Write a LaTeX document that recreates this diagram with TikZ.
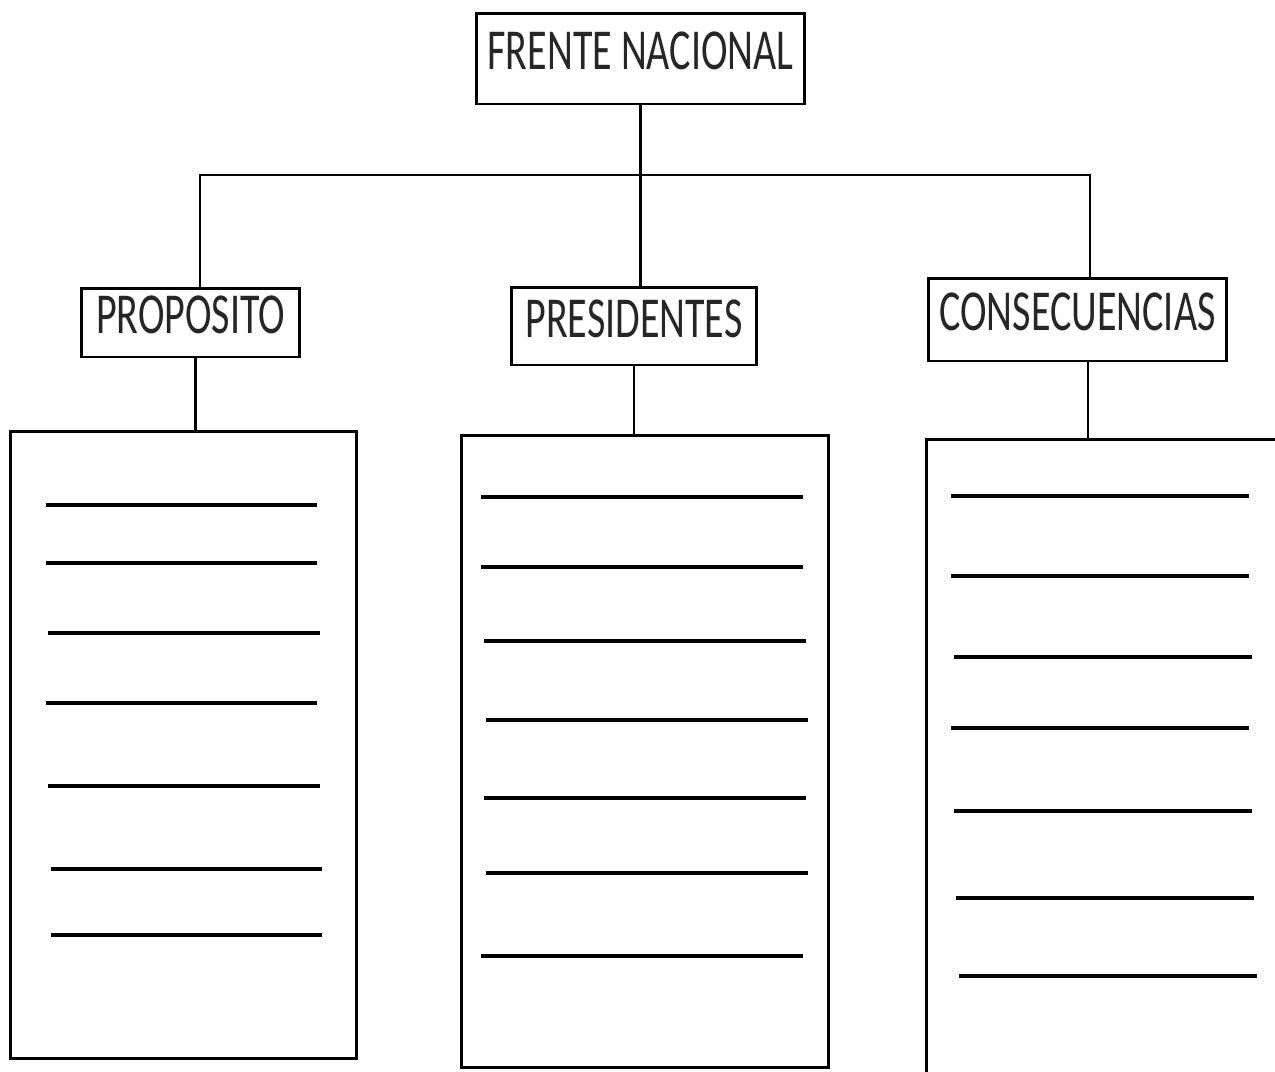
\documentclass[tikz,border=0pt]{standalone}
\usepackage{fontspec}
\newfontfamily\calibri[FakeStretch=0.69]{Carlito}
\usetikzlibrary{positioning}
\tikzset{
    %Define style for title boxes
    titulo/.style={
           rectangle,
           draw=black, line width=1.7pt,
           inner sep=0pt,
           text depth=0.3cm,
           font=\calibri\fontsize{33}{40}\selectfont,
           text=black!85,
           text centered},
    %Define style for list boxes
    caja/.style={
           rectangle,
           draw=black, line width=1.7pt,
           inner sep=0pt},
    % Define line styles
    rama/.style={
           line width=1.6pt},
    renglon/.style={
           line width=2.4pt}
}

\begin{document}
\begin{tikzpicture}[x=0.02cm,y=-0.02cm]
\useasboundingbox (0,0) rectangle (1275,1072);
\clip (0,0) rectangle (1275,1072);
 %nodes
\node[titulo, minimum width=6.58cm, minimum height=1.82cm](fn) at (640.5,58.5){FRENTE NACIONAL};
\node[titulo, minimum width=4.38cm, minimum height=1.38cm](prop) at (190.5,322.5){PROPOSITO};
\node[titulo, minimum width=4.92cm, minimum height=1.56cm](pres) at (634,326){PRESIDENTES};
\node[titulo, minimum width=5.98cm, minimum height=1.66cm](cons) at (1077.5,319.5){CONSECUENCIAS};
\node[caja, minimum width=6.94cm, minimum height=12.56cm](lprop) at (183.5,745){};
\node[caja, minimum width=7.36cm, minimum height=12.66cm](lpres) at (645,751.5){};
\node[caja, minimum width=7.48cm, minimum height=13.22cm](lcons) at (1113,769.5){};
\coordinate (jl) at (200,175);
\coordinate (jr) at (1090,175);
 %connectors
\draw[rama] (fn.south) -- (fn.south |- pres.north);
\draw[rama] (jl |- prop.north) -- (jl) -- (jr) -- (jr |- cons.north);
\draw[rama] ([xshift=0.1cm]prop.south) -- ([xshift=0.1cm]prop.south |- lprop.north);
\draw[rama] (pres.south) -- (pres.south |- lpres.north);
\draw[rama] ([xshift=0.21cm]cons.south) -- ([xshift=0.21cm]cons.south |- lcons.north);
 %lines
\foreach \a/\b/\y in {46/317/505, 46/317/563, 48/320/633, 46/317/703, 48/320/786, 51/322/869, 51/322/935}
    \draw[renglon] (\a,\y) -- (\b,\y);
\foreach \a/\b/\y in {481/803/497, 481/803/567, 484/806/641, 486/808/720, 484/806/798, 486/808/873, 481/803/956}
    \draw[renglon] (\a,\y) -- (\b,\y);
\foreach \a/\b/\y in {951/1249/496, 951/1249/576, 954/1252/657, 951/1249/728, 954/1252/811, 956/1254/898, 959/1257/976}
    \draw[renglon] (\a,\y) -- (\b,\y);
\end{tikzpicture}
\end{document}
